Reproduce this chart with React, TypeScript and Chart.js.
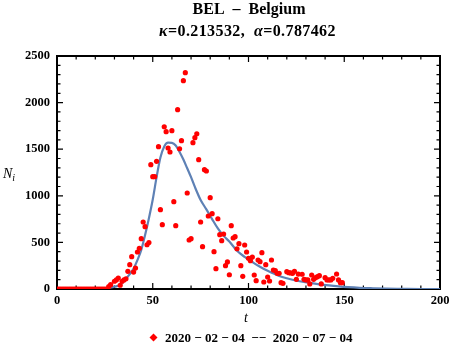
import React, { useEffect, useRef } from "react";
import { Chart, registerables } from "chart.js";

Chart.register(...registerables);

// Observed daily new cases (t = days since 2020-02-04)
const days = [
  0, 1, 2, 3, 4, 5, 6, 7, 8, 9, 10, 11, 12, 13, 14, 15, 16, 17, 18, 19, 20, 21, 22, 23, 24, 25, 26,
  27, 28, 30, 31, 32, 33, 34, 35, 36, 37, 38, 39, 40, 41, 42, 43, 44, 45, 46, 47, 48, 49,
  50, 51, 52, 53, 54, 55, 56, 57, 58, 59, 60, 61, 62, 63, 64, 65, 66, 67, 68, 69,
  70, 71, 72, 73, 74, 75, 76, 77, 78, 79, 80, 81, 82, 83, 84, 85, 86, 87, 88, 89,
  90, 91, 92, 93, 94, 95, 96, 97, 98, 99, 100, 101, 102, 103, 104, 105, 106, 107, 108, 109,
  110, 111, 112, 113, 114, 115, 116, 117, 118, 120, 121, 122, 123, 124, 125, 126, 128, 129,
  130, 131, 132, 133, 134, 135, 136, 137, 138, 140, 141, 142, 143, 144, 146, 147, 148, 149,
];
const cases = [
  0, 0, 0, 0, 0, 0, 0, 0, 0, 0, 0, 0, 0, 0, 0, 0, 0, 0, 0, 0, 0, 0, 0, 0, 0, 0, 0,
  25, 46, 83, 97, 118, 40, 83, 97, 110, 190, 261, 347, 182, 225, 397, 437, 540, 719, 669, 475, 498, 1334,
  1205, 1205, 1370, 1527, 851, 690, 1741, 1688, 1513, 1470, 1699, 937, 679, 1924, 1505, 1592, 2235, 2321, 1030, 526,
  540, 1570, 1624, 1666, 1388, 719, 454, 1280, 1266, 783, 980, 808, 400, 218, 754, 583, 518, 590, 250, 290,
  153, 679, 547, 561, 432, 486, 250, 136, 472, 397, 329, 304, 343, 150, 89, 311, 293, 390, 75, 261,
  129, 86, 311, 204, 197, 168, 168, 68, 61, 186, 175, 172, 168, 190, 104, 160, 158, 104,
  97, 97, 54, 150, 104, 121, 132, 143, 54, 121, 97, 97, 97, 115, 161, 97, 68, 68,
];

// Fitted model curve
const fitT = [0, 15, 20, 25, 28, 30, 33, 36, 38, 40, 42, 44, 46, 48, 50, 52, 54, 56, 58, 60, 62, 64, 66, 68, 70, 72, 75, 78, 81, 84, 87, 90, 94, 98, 102, 106, 110, 116, 120, 126, 132, 137, 142, 147, 152, 158, 165, 172, 180, 190, 200];
const fitN = [0, 0, 2, 8, 16, 25, 45, 110, 160, 220, 310, 420, 580, 760, 960, 1200, 1410, 1530, 1570, 1568, 1540, 1470, 1390, 1295, 1200, 1095, 955, 855, 750, 650, 570, 510, 410, 345, 290, 238, 195, 140, 115, 86, 65, 50, 38, 28, 20, 13, 8, 4, 2, 0, 0];

const xTickValues = [0, 50, 100, 150, 200];
const yTickValues = [0, 500, 1000, 1500, 2000, 2500];

const titleLine1 = "BEL  \u2013  Belgium";
const titleKappa = "\u03ba";
const titleKappaVal = "=0.213532,  ";
const titleAlpha = "\u03b1";
const titleAlphaVal = "=0.787462";
const xAxisTitle = "t";
const yAxisTitle = "N";
const yAxisSub = "i";
const legendLabel = "2020 \u2212 02 \u2212 04  \u2212\u2212  2020 \u2212 07 \u2212 04";

const SERIF = "'Liberation Serif', 'Times New Roman', 'DejaVu Serif', serif";

export default function App() {
  const ref = useRef<HTMLCanvasElement | null>(null);

  useEffect(() => {
    const canvas = ref.current;
    if (!canvas) return;

    const frame = {
      id: "frame",
      beforeDatasetsDraw(chart: any) {
        const { ctx, chartArea: a, scales } = chart;
        const xs = scales.x;
        const ys = scales.y;
        ctx.save();
        ctx.strokeStyle = "#000";
        ctx.lineWidth = 1.2;
        ctx.beginPath();
        for (let v = 0; v <= 200; v += 10) {
          const px = xs.getPixelForValue(v);
          const len = v % 50 === 0 ? 6 : 3.5;
          ctx.moveTo(px, a.bottom);
          ctx.lineTo(px, a.bottom - len);
          ctx.moveTo(px, a.top);
          ctx.lineTo(px, a.top + len);
        }
        for (let v = 0; v <= 2500; v += 100) {
          const py = ys.getPixelForValue(v);
          const len = v % 500 === 0 ? 6 : 3.5;
          ctx.moveTo(a.left, py);
          ctx.lineTo(a.left + len, py);
          ctx.moveTo(a.right, py);
          ctx.lineTo(a.right - len, py);
        }
        ctx.stroke();
        ctx.lineWidth = 2;
        ctx.strokeRect(a.left, a.top, a.right - a.left, a.bottom - a.top);
        ctx.restore();
      },
      afterDraw(chart: any) {
        const { ctx } = chart;
        ctx.save();
        ctx.fillStyle = "#000";
        ctx.textBaseline = "alphabetic";
        // Title line 1
        ctx.font = `bold 16px ${SERIF}`;
        ctx.textAlign = "center";
        ctx.fillText(titleLine1, 249, 14);
        // Title line 2 (with italic greek letters)
        ctx.textAlign = "left";
        try { (ctx as any).letterSpacing = "0.4px"; } catch (e) {}
        const parts: [string, string][] = [
          [titleKappa, `italic bold 16px ${SERIF}`],
          [titleKappaVal, `bold 16px ${SERIF}`],
          [titleAlpha, `italic bold 16px ${SERIF}`],
          [titleAlphaVal, `bold 16px ${SERIF}`],
        ];
        let total = 0;
        for (const [s, f] of parts) {
          ctx.font = f;
          total += ctx.measureText(s).width;
        }
        let x = 247.5 - total / 2;
        for (const [s, f] of parts) {
          ctx.font = f;
          ctx.fillText(s, x, 36);
          x += ctx.measureText(s).width;
        }
        try { (ctx as any).letterSpacing = "0px"; } catch (e) {}
        // Axis titles
        ctx.font = `italic 14px ${SERIF}`;
        ctx.textAlign = "center";
        ctx.fillText(xAxisTitle, 246, 322);
        ctx.textAlign = "left";
        ctx.fillText(yAxisTitle, 3, 178);
        const nw = ctx.measureText(yAxisTitle).width;
        ctx.font = `italic 10px ${SERIF}`;
        ctx.fillText(yAxisSub, 3 + nw, 181);
        // Legend
        ctx.fillStyle = "#ff0000";
        ctx.beginPath();
        const dx = 153.5, dy = 337.5, r = 4;
        ctx.moveTo(dx, dy - r);
        ctx.lineTo(dx + r, dy);
        ctx.lineTo(dx, dy + r);
        ctx.lineTo(dx - r, dy);
        ctx.closePath();
        ctx.fill();
        ctx.fillStyle = "#000";
        ctx.font = `bold 13px ${SERIF}`;
        ctx.textAlign = "left";
        ctx.fillText(legendLabel, 165, 342);
        ctx.restore();
      },
    };

    const tickFont = { family: SERIF, size: 12.5, weight: "bold" as const };

    const chart = new Chart(canvas, {
      type: "scatter",
      data: {
        datasets: [
          {
            type: "scatter",
            label: "cases",
            data: days.map((d, i) => ({ x: d, y: cases[i] })),
            backgroundColor: "#ff0000",
            borderWidth: 0,
            pointRadius: 2.6,
            pointHoverRadius: 2.6,
            clip: 0,
            order: 0,
          },
          {
            type: "line",
            label: "fit",
            data: fitT.map((t, i) => ({ x: t, y: fitN[i] })),
            borderColor: "#5e81b5",
            borderWidth: 2.2,
            pointRadius: 0,
            fill: false,
            cubicInterpolationMode: "monotone",
            clip: 0,
            order: 1,
          },
        ],
      },
      options: {
        responsive: false,
        animation: false,
        devicePixelRatio: 1,
        layout: { padding: { top: 56, right: 10, bottom: 0, left: 0 } },
        plugins: {
          legend: { display: false },
          title: { display: false },
          tooltip: { enabled: false },
        },
        events: [],
        scales: {
          x: {
            type: "linear",
            min: 0,
            max: 200,
            grid: { display: false, drawTicks: false },
            border: { display: false },
            afterBuildTicks: (s: any) => {
              s.ticks = xTickValues.map((v) => ({ value: v }));
            },
            ticks: {
              font: tickFont,
              color: "#000",
              padding: 4,
              maxRotation: 0,
              callback: (v: any) => String(v),
            },
            afterFit: (s: any) => {
              s.height = 56;
              s.paddingLeft = 0;
              s.paddingRight = 0;
            },
          },
          y: {
            type: "linear",
            min: 0,
            max: 2500,
            grid: { display: false, drawTicks: false },
            border: { display: false },
            afterBuildTicks: (s: any) => {
              s.ticks = yTickValues.map((v) => ({ value: v }));
            },
            ticks: {
              font: tickFont,
              color: "#000",
              padding: 7,
              callback: (v: any) => String(v),
            },
            afterFit: (s: any) => {
              s.width = 57;
              s.paddingTop = 0;
              s.paddingBottom = 0;
            },
          },
        },
      },
      plugins: [frame],
    });

    return () => chart.destroy();
  }, []);

  return (
    <div style={{ position: "absolute", left: 0, top: 0, width: 450, height: 345, background: "#fff" }}>
      <canvas ref={ref} width={450} height={345} style={{ display: "block", width: 450, height: 345 }} />
    </div>
  );
}
